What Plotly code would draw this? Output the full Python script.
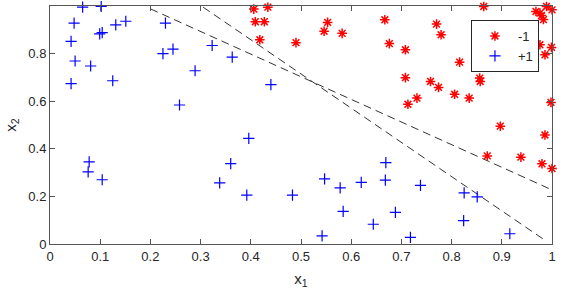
import plotly.graph_objects as go

# Class +1 (blue plus markers)
blue_x = [0.065, 0.102, 0.048, 0.042, 0.050, 0.042, 0.081, 0.099, 0.104, 0.131, 0.151, 0.125,
          0.230, 0.225, 0.245, 0.258, 0.289, 0.323, 0.363, 0.440, 0.396,
          0.078, 0.076, 0.104, 0.360, 0.338, 0.392, 0.483, 0.547, 0.578, 0.620, 0.584,
          0.644, 0.542, 0.669, 0.668, 0.738, 0.688, 0.718, 0.825, 0.851, 0.824, 0.916]
blue_y = [0.995, 0.998, 0.928, 0.851, 0.769, 0.674, 0.748, 0.883, 0.888, 0.921, 0.936, 0.686,
          0.928, 0.800, 0.819, 0.584, 0.728, 0.834, 0.785, 0.670, 0.444,
          0.345, 0.303, 0.270, 0.338, 0.257, 0.205, 0.205, 0.274, 0.236, 0.259, 0.137,
          0.083, 0.034, 0.342, 0.268, 0.246, 0.133, 0.028, 0.215, 0.198, 0.098, 0.043]

# Class -1 (red asterisk markers)
red_x = [0.406, 0.434, 0.409, 0.427, 0.418, 0.490, 0.553, 0.546, 0.582,
         0.667, 0.676, 0.708, 0.770, 0.779, 0.864, 0.708, 0.758, 0.774, 0.731, 0.713,
         0.806, 0.835, 0.816, 0.856, 0.857, 0.897, 0.986, 0.998,
         0.989, 1.000, 0.968, 0.976, 0.979, 0.983, 0.976, 0.999, 0.986,
         0.871, 0.938, 0.980, 1.000]
red_y = [0.987, 0.995, 0.934, 0.934, 0.858, 0.846, 0.931, 0.894, 0.885,
         0.942, 0.842, 0.816, 0.924, 0.879, 0.998, 0.699, 0.683, 0.658, 0.613, 0.587,
         0.629, 0.613, 0.764, 0.697, 0.683, 0.495, 0.458, 0.595,
         0.998, 0.984, 0.977, 0.970, 0.960, 0.943, 0.837, 0.826, 0.795,
         0.370, 0.365, 0.337, 0.317]

# Decision boundary lines (end points)
lineA_x = [0.200, 0.994]
lineA_y = [0.988, 0.233]
lineB_x = [0.305, 0.983]
lineB_y = [0.995, 0.020]

font_family = "Liberation Sans, Arial, sans-serif"
axis_col = "#555555"
text_col = "#262626"

fig = go.Figure()
fig.add_trace(go.Scatter(x=lineA_x, y=lineA_y, mode="lines", showlegend=False,
                         line=dict(color="#333333", width=1, dash="8px,5px")))
fig.add_trace(go.Scatter(x=lineB_x, y=lineB_y, mode="lines", showlegend=False,
                         line=dict(color="#333333", width=1, dash="8px,5px")))
fig.add_trace(go.Scatter(x=red_x, y=red_y, mode="markers", name="-1", cliponaxis=False,
                         marker=dict(symbol="asterisk-open", size=8, color="#ff0000",
                                     line=dict(color="#ff0000", width=1.5))))
fig.add_trace(go.Scatter(x=blue_x, y=blue_y, mode="markers", name="+1", cliponaxis=False,
                         marker=dict(symbol="cross-thin-open", size=8, color="#0000ff",
                                     line=dict(color="#0000ff", width=1.2))))

axis_common = dict(range=[0, 1], showgrid=False, zeroline=False, showline=True,
                   linecolor=axis_col, linewidth=1, mirror="ticks", ticks="inside",
                   ticklen=5, tickcolor=axis_col,
                   tickfont=dict(family=font_family, size=13, color=text_col))

fig.update_layout(
    width=565, height=296,
    margin=dict(l=50, r=13, t=6, b=52),
    paper_bgcolor="white", plot_bgcolor="white",
    xaxis=dict(**axis_common, tickvals=[0, 0.1, 0.2, 0.3, 0.4, 0.5, 0.6, 0.7, 0.8, 0.9, 1],
               ticktext=["0", "0.1", "0.2", "0.3", "0.4", "0.5", "0.6", "0.7", "0.8", "0.9", "1"],
               title=dict(text="x<sub>1</sub>", standoff=10,
                          font=dict(family=font_family, size=15, color=text_col))),
    yaxis=dict(**axis_common, tickvals=[0, 0.2, 0.4, 0.6, 0.8, 1],
               ticktext=["0", "0.2", "0.4", "0.6", "0.8", "1"],
               title=dict(text="x<sub>2</sub>", standoff=8,
                          font=dict(family=font_family, size=15, color=text_col))),
    legend=dict(x=0.974, y=0.941, xanchor="right", yanchor="top",
                bgcolor="white", bordercolor="#262626", borderwidth=1,
                font=dict(family=font_family, size=13, color=text_col),
                itemwidth=36, tracegroupgap=0),
)

fig.write_html("out.html")
